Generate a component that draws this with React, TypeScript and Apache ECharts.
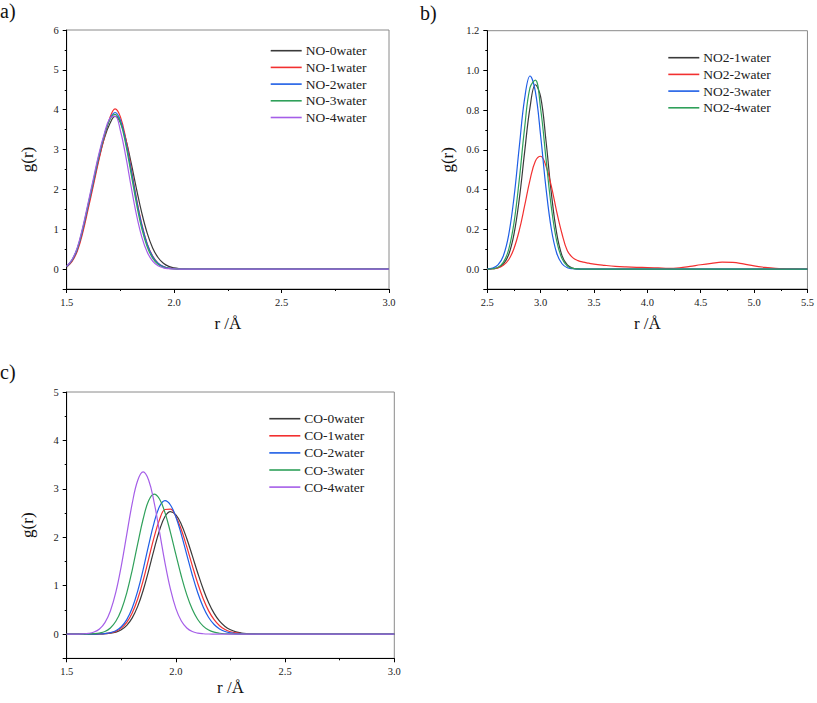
import React, { useEffect, useRef } from "react";
import * as echarts from "echarts";

// ---------- Panel a: NO ----------
const rA = [1.5, 1.525, 1.55, 1.575, 1.6, 1.625, 1.65, 1.675, 1.7, 1.725, 1.75, 1.775, 1.8, 1.825, 1.85, 1.875, 1.9, 1.925, 1.95, 1.975, 2.0, 2.025, 2.05, 2.075, 2.1, 2.5, 3.0];
const no0 = [0.06, 0.21, 0.50, 0.98, 1.58, 2.18, 2.78, 3.28, 3.64, 3.83, 3.679, 3.259, 2.663, 2.008, 1.396, 0.896, 0.530, 0.290, 0.146, 0.068, 0.029, 0.011, 0.004, 0.001, 0, 0, 0];
const no1 = [0.05, 0.19, 0.46, 0.92, 1.51, 2.12, 2.74, 3.30, 3.78, 4.02, 3.819, 3.273, 2.532, 1.768, 1.113, 0.633, 0.324, 0.150, 0.063, 0.024, 0.008, 0.002, 0.001, 0, 0, 0, 0];
const no2 = [0.06, 0.22, 0.51, 1.00, 1.60, 2.21, 2.82, 3.35, 3.76, 3.93, 3.733, 3.200, 2.475, 1.728, 1.088, 0.619, 0.317, 0.147, 0.061, 0.023, 0.008, 0.002, 0.001, 0, 0, 0, 0];
const no3 = [0.065, 0.23, 0.53, 1.03, 1.63, 2.24, 2.85, 3.36, 3.74, 3.88, 3.675, 3.125, 2.385, 1.633, 1.003, 0.553, 0.274, 0.121, 0.049, 0.017, 0.006, 0.002, 0, 0, 0, 0, 0];
const no4 = [0.07, 0.24, 0.55, 1.06, 1.67, 2.29, 2.90, 3.40, 3.78, 3.84, 3.472, 2.827, 2.066, 1.354, 0.797, 0.421, 0.200, 0.085, 0.032, 0.011, 0.003, 0.001, 0, 0, 0, 0, 0];
const namesA = ["NO-0water", "NO-1water", "NO-2water", "NO-3water", "NO-4water"];

// ---------- Panel b: NO2 ----------
const rBPeak = [2.5, 2.55, 2.6, 2.65, 2.7, 2.75, 2.8, 2.85, 2.9, 2.95, 3.0, 3.05, 3.1, 3.15, 3.2, 3.25, 3.3, 3.35, 3.4, 3.45, 3.5, 5.5];
const rBFull = [2.5, 2.55, 2.6, 2.65, 2.7, 2.75, 2.8, 2.85, 2.9, 2.95, 3.0, 3.05, 3.1, 3.15, 3.2, 3.25, 3.3, 3.35, 3.4, 3.45, 3.5, 3.6, 3.7, 3.8, 3.9, 4.0, 4.1, 4.2, 4.3, 4.4, 4.5, 4.6, 4.7, 4.8, 4.9, 5.0, 5.1, 5.2, 5.3, 5.4, 5.5];
const no2w1 = [0, 0.002, 0.007, 0.025, 0.072, 0.176, 0.354, 0.590, 0.813, 0.928, 0.867, 0.646, 0.383, 0.181, 0.068, 0.021, 0.005, 0.001, 0, 0, 0, 0];
const no2w2 = [0, 0.002, 0.006, 0.019, 0.047, 0.104, 0.196, 0.319, 0.448, 0.543, 0.568, 0.519, 0.418, 0.290, 0.178, 0.092, 0.058, 0.043, 0.035, 0.030, 0.025, 0.019, 0.014, 0.011, 0.009, 0.008, 0.006, 0.004, 0.007, 0.014, 0.022, 0.029, 0.035, 0.034, 0.026, 0.016, 0.009, 0.004, 0.002, 0.001, 0];
const no2w3 = [0.001, 0.005, 0.021, 0.066, 0.171, 0.360, 0.617, 0.859, 0.972, 0.895, 0.670, 0.408, 0.202, 0.081, 0.027, 0.007, 0.002, 0, 0, 0, 0, 0];
const no2w4 = [0, 0.002, 0.009, 0.034, 0.098, 0.233, 0.452, 0.712, 0.913, 0.951, 0.806, 0.556, 0.312, 0.142, 0.053, 0.016, 0.004, 0.001, 0, 0, 0, 0];
const namesB = ["NO2-1water", "NO2-2water", "NO2-3water", "NO2-4water"];

// ---------- Panel c: CO ----------
const rC = [1.5, 1.525, 1.55, 1.575, 1.6, 1.625, 1.65, 1.675, 1.7, 1.725, 1.75, 1.775, 1.8, 1.825, 1.85, 1.875, 1.9, 1.925, 1.95, 1.975, 2.0, 2.025, 2.05, 2.075, 2.1, 2.125, 2.15, 2.175, 2.2, 2.225, 2.25, 2.275, 2.3, 2.325, 2.35, 2.375, 2.4, 3.0];
const co0 = [0, 0, 0, 0, 0, 0.001, 0.002, 0.007, 0.017, 0.041, 0.089, 0.180, 0.335, 0.572, 0.901, 1.307, 1.745, 2.145, 2.428, 2.53, 2.461, 2.264, 1.970, 1.621, 1.262, 0.930, 0.647, 0.427, 0.266, 0.157, 0.088, 0.046, 0.023, 0.011, 0.005, 0.002, 0.001, 0];
const co1 = [0, 0, 0, 0, 0, 0.001, 0.004, 0.010, 0.025, 0.057, 0.123, 0.242, 0.436, 0.724, 1.105, 1.550, 1.997, 2.364, 2.573, 2.581, 2.430, 2.155, 1.800, 1.415, 1.048, 0.731, 0.480, 0.297, 0.173, 0.095, 0.049, 0.024, 0.011, 0.005, 0.002, 0.001, 0, 0];
const co2 = [0, 0, 0, 0, 0, 0.001, 0.004, 0.011, 0.029, 0.070, 0.151, 0.298, 0.538, 0.886, 1.333, 1.832, 2.298, 2.633, 2.755, 2.667, 2.419, 2.056, 1.637, 1.221, 0.854, 0.559, 0.343, 0.198, 0.106, 0.054, 0.025, 0.011, 0.005, 0.002, 0.001, 0, 0, 0];
const co3 = [0, 0, 0, 0.001, 0.003, 0.008, 0.022, 0.055, 0.127, 0.264, 0.498, 0.853, 1.323, 1.862, 2.377, 2.752, 2.89, 2.789, 2.509, 2.102, 1.641, 1.194, 0.809, 0.511, 0.301, 0.165, 0.084, 0.040, 0.018, 0.007, 0.003, 0.001, 0, 0, 0, 0, 0, 0];
const co4 = [0, 0, 0.001, 0.005, 0.015, 0.042, 0.105, 0.237, 0.478, 0.866, 1.410, 2.059, 2.698, 3.173, 3.35, 3.182, 2.728, 2.110, 1.473, 0.928, 0.527, 0.270, 0.125, 0.052, 0.020, 0.007, 0.002, 0.001, 0, 0, 0, 0, 0, 0, 0, 0, 0, 0];
const namesC = ["CO-0water", "CO-1water", "CO-2water", "CO-3water", "CO-4water"];

const COLORS = ["#3a3a3a", "#f23030", "#1e5ee6", "#2fa05a", "#a55ee8"];
const COLORS_B = ["#3a3a3a", "#f23030", "#1e5ee6", "#2fa05a"];
const FONT = '"Liberation Serif", "Times New Roman", serif';

function zip(xs: number[], ys: number[]) {
  return ys.map((y, i) => [xs[i], y]);
}

function xAxis(gridIndex: number, min: number, max: number, nameGap: number) {
  return {
    type: "value",
    gridIndex,
    min,
    max,
    interval: 0.5,
    name: "r /Å",
    nameLocation: "middle",
    nameGap,
    nameTextStyle: { fontFamily: FONT, fontSize: 17, color: "#111" },
    axisLine: { onZero: false, lineStyle: { color: "#000", width: 1 } },
    axisTick: { inside: false, length: 4, lineStyle: { color: "#000" } },
    minorTick: { show: true, splitNumber: 2, length: 2, lineStyle: { color: "#000" } },
    splitLine: { show: false },
    axisLabel: {
      fontFamily: FONT,
      fontSize: 10.5,
      color: "#222",
      margin: 8,
      formatter: (v: number) => v.toFixed(1),
    },
  };
}

function yAxis(gridIndex: number, min: number, max: number, step: number, digits: number) {
  return {
    type: "value",
    gridIndex,
    min,
    max,
    minInterval: step,
    maxInterval: step,
    splitNumber: 6,
    name: "g(r)",
    nameLocation: "middle",
    nameGap: 31,
    nameTextStyle: { fontFamily: FONT, fontSize: 17, color: "#111" },
    axisLine: { onZero: false, lineStyle: { color: "#000", width: 1 } },
    axisTick: { inside: false, length: 4, lineStyle: { color: "#000" } },
    minorTick: { show: true, splitNumber: 2, length: 2, lineStyle: { color: "#000" } },
    splitLine: { show: false },
    axisLabel: {
      fontFamily: FONT,
      fontSize: 10.5,
      color: "#222",
      margin: 8,
      showMinLabel: false,
      formatter: (v: number) => (v < 0 ? "" : v.toFixed(digits)),
    },
  };
}

function lineSeries(name: string, data: number[][], color: string, idx: number) {
  return {
    type: "line",
    name,
    xAxisIndex: idx,
    yAxisIndex: idx,
    data,
    smooth: 0.4,
    symbol: "none",
    showSymbol: false,
    lineStyle: { color, width: 1.2 },
    itemStyle: { color },
  };
}

function legend(names: string[], left: number, top: number, gap: number) {
  return {
    data: names,
    orient: "vertical",
    left,
    top,
    icon: "rect",
    itemWidth: 31,
    itemHeight: 1.6,
    itemGap: gap,
    padding: 0,
    textStyle: { fontFamily: FONT, fontSize: 13.5, color: "#222", lineHeight: 14, padding: [0, 0, 0, -1] },
  };
}

export default function App() {
  const ref = useRef<HTMLDivElement>(null);
  useEffect(() => {
    document.body.style.margin = "0";
    if (!ref.current) return;
    const chart = echarts.init(ref.current, null, { renderer: "svg" });
    const seriesA = [no0, no1, no2, no3, no4].map((ys, i) => lineSeries(namesA[i], zip(rA, ys), COLORS[i], 0));
    const seriesB = [no2w1, no2w2, no2w3, no2w4].map((ys, i) =>
      lineSeries(namesB[i], zip(i === 1 ? rBFull : rBPeak, ys), COLORS_B[i], 1)
    );
    const seriesC = [co0, co1, co2, co3, co4].map((ys, i) => lineSeries(namesC[i], zip(rC, ys), COLORS[i], 2));
    chart.setOption({
      animation: false,
      backgroundColor: "#fff",
      grid: [
        { left: 66.7, top: 30, width: 322.3, height: 259, show: true, borderColor: "#8a8a8a", borderWidth: 1, backgroundColor: "transparent" },
        { left: 487.3, top: 30.7, width: 322, height: 258.3, show: true, borderColor: "#8a8a8a", borderWidth: 1, backgroundColor: "transparent" },
        { left: 66.7, top: 392, width: 327.6, height: 266.3, show: true, borderColor: "#8a8a8a", borderWidth: 1, backgroundColor: "transparent" },
      ],
      xAxis: [xAxis(0, 1.5, 3.0, 26), xAxis(1, 2.5, 5.5, 26), xAxis(2, 1.5, 3.0, 21)],
      yAxis: [yAxis(0, -0.5, 6, 1, 0), yAxis(1, -0.1, 1.2, 0.2, 1), yAxis(2, -0.5, 5, 1, 0)],
      legend: [
        legend(namesA, 270.7, 43.7, 2.7),
        legend(namesB, 668.3, 50.7, 2.7),
        legend(namesC, 269.3, 411.7, 3.1),
      ],
      graphic: [
        { type: "text", left: 0, top: 1, style: { text: "a)", font: `20px ${FONT}`, fill: "#111" } },
        { type: "text", left: 420, top: 3, style: { text: "b)", font: `20px ${FONT}`, fill: "#111" } },
        { type: "text", left: 0, top: 362, style: { text: "c)", font: `20px ${FONT}`, fill: "#111" } },
      ],
      series: [...seriesA, ...seriesB, ...seriesC],
    });
    return () => chart.dispose();
  }, []);
  return <div ref={ref} style={{ width: 817, height: 703 }} />;
}
